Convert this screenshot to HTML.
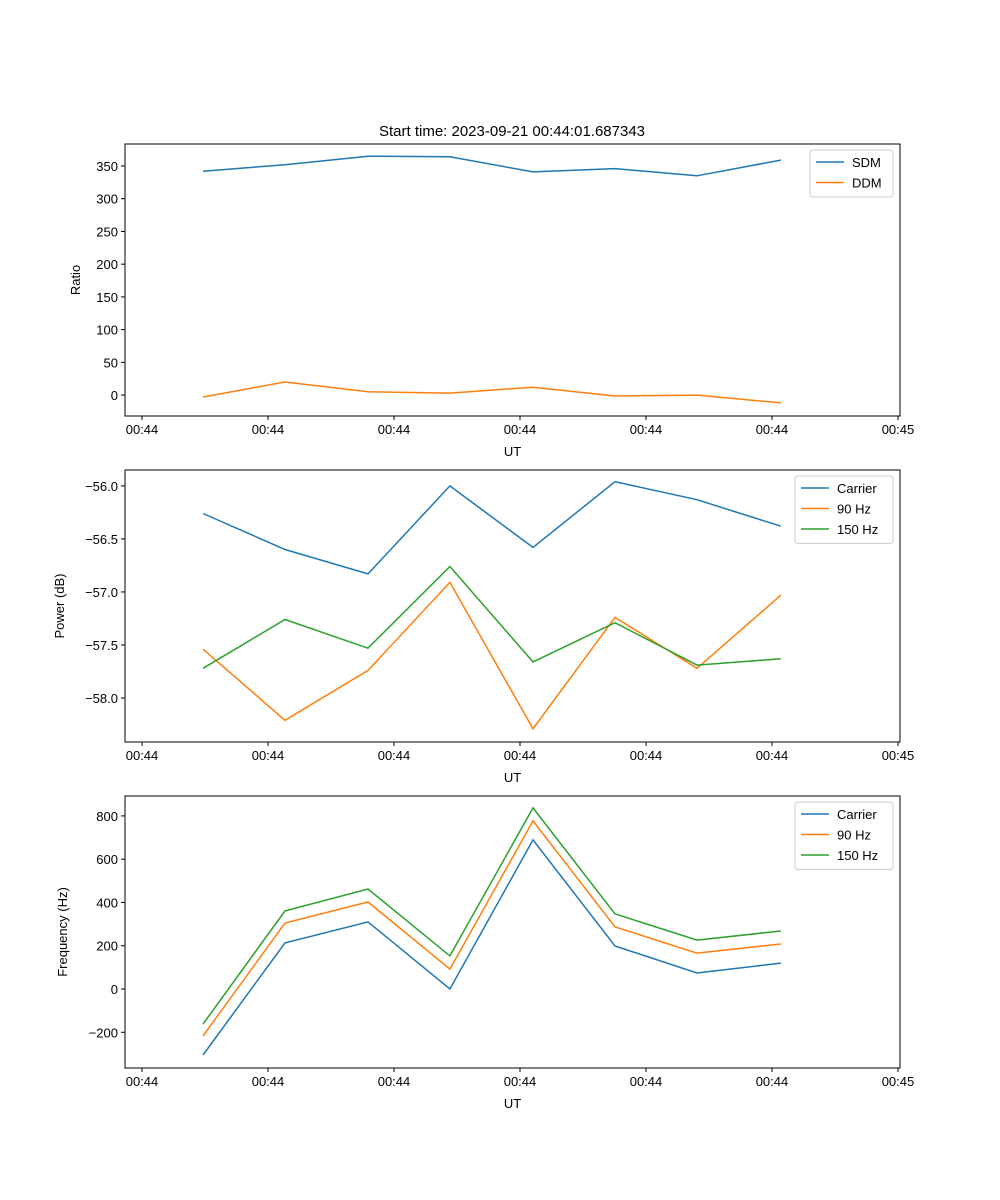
<!DOCTYPE html>
<html><head><meta charset="utf-8"><style>
body{margin:0;background:#fff}
svg{display:block;font-family:"Liberation Sans","DejaVu Sans",sans-serif}
</style></head><body>
<svg id="fig" width="1000" height="1200" xmlns="http://www.w3.org/2000/svg">
<rect width="1000" height="1200" fill="#fff"/>
<text x="512" y="136" font-size="15" text-anchor="middle">Start time: 2023-09-21 00:44:01.687343</text>
</svg>
<script>
const times = [0.484, 1.135, 1.794, 2.444, 3.103, 3.754, 4.405, 5.071];
const xTickVals = [0,1,2,3,4,5,6];
const xTickLabels = ["00:44","00:44","00:44","00:44","00:44","00:44","00:45"];
const sdm = [342, 352, 365, 364, 341, 346, 335, 359];
const ddm = [-3, 20, 5, 3, 12, -1.5, 0, -12];
const pCarrier = [-56.26, -56.60, -56.83, -56.0, -56.58, -55.96, -56.13, -56.38];
const p90 = [-57.54, -58.21, -57.74, -56.91, -58.29, -57.24, -57.72, -57.03];
const p150 = [-57.72, -57.26, -57.53, -56.76, -57.66, -57.29, -57.69, -57.63];
const fCarrier = [-305, 213, 310, 0, 689, 199, 74, 120];
const f90 = [-217, 305, 402, 92, 777, 287, 166, 208];
const f150 = [-162, 361, 462, 153, 837, 347, 226, 268];
const ratioTicks = [0,50,100,150,200,250,300,350];
const powerTicks = [-58.0,-57.5,-57.0,-56.5,-56.0];
const freqTicks = [-200,0,200,400,600,800];

const NS="http://www.w3.org/2000/svg";
const svg=document.getElementById('fig');
function mk(tag,attrs,parent){const e=document.createElementNS(NS,tag);for(const k in attrs)e.setAttribute(k,attrs[k]);(parent||svg).appendChild(e);return e;}
const L=125,R=900,X0=-0.135,X1=6.016;
const sx=v=>L+(v-X0)/(X1-X0)*(R-L);

function panel(name,top,bot,y0,y1,yTicks,fmt,ylabel,series,legend){
  const g=mk('g',{});
  
  
  const sy=v=>bot-(v-y0)/(y1-y0)*(bot-top);
  series.forEach(s=>{
    const pts=s.vals.map((v,i)=>sx(times[i]).toFixed(1)+','+sy(v).toFixed(1)).join(' ');
    const pl=mk('polyline',{points:pts,fill:'none',stroke:s.color,'stroke-width':1.5},g);
    
    
  });
  mk('rect',{x:L,y:top,width:R-L,height:bot-top,fill:'none',stroke:'#000','stroke-width':1},g);
  xTickVals.forEach((t,i)=>{
    const x=sx(t);
    mk('line',{x1:x,x2:x,y1:bot,y2:bot+4,stroke:'#000'},g);
    const tx=mk('text',{x:x,y:bot+18,'font-size':13,'text-anchor':'middle'},g);tx.textContent=xTickLabels[i];
    
    
  });
  const xl=mk('text',{x:(L+R)/2,y:bot+40,'font-size':13,'text-anchor':'middle'},g);xl.textContent='UT';
  
  
  yTicks.forEach(v=>{
    const y=sy(v);
    mk('line',{x1:L-4,x2:L,y1:y,y2:y,stroke:'#000'},g);
    const tx=mk('text',{x:L-7,y:y+5,'font-size':13,'text-anchor':'end'},g);tx.textContent=fmt(v);
    
    
  });
  const yl=mk('text',{x:0,y:0,'font-size':13,'text-anchor':'middle',transform:`translate(${legend.ylx},${(top+bot)/2}) rotate(-90)`},g);yl.textContent=ylabel;
  
  
  const lg=mk('g',{},g);
  
  
  mk('rect',{x:legend.x,y:top+6,width:legend.w,height:series.length*20.5+6,fill:'#fff',stroke:'#ccc',rx:3},lg);
  series.forEach((s,i)=>{
    const y=top+18+i*20.5;
    mk('line',{x1:legend.x+6,x2:legend.x+34,y1:y,y2:y,stroke:s.color,'stroke-width':1.5},lg);
    const tx=mk('text',{x:legend.x+42,y:y+5,'font-size':13},lg);tx.textContent=s.label;
    
    
  });
}
const B='#1f77b4',O='#ff7f0e',G='#2ca02c';
panel('ratio-panel',144,416,-32,383.6,ratioTicks,v=>String(v),'Ratio',
  [{id:'sdm',vals:sdm,color:B,label:'SDM'},{id:'ddm',vals:ddm,color:O,label:'DDM'}],{x:810,w:83,ylx:80});
panel('power-panel',470,742,-58.415,-55.85,powerTicks,v=>'\u2212'+Math.abs(v).toFixed(1),'Power (dB)',
  [{id:'carrier',vals:pCarrier,color:B,label:'Carrier'},{id:'90hz',vals:p90,color:O,label:'90 Hz'},{id:'150hz',vals:p150,color:G,label:'150 Hz'}],{x:795,w:98,ylx:64});
panel('frequency-panel',796,1068,-365,892,freqTicks,v=>v<0?'\u2212'+Math.abs(v):String(v),'Frequency (Hz)',
  [{id:'carrier',vals:fCarrier,color:B,label:'Carrier'},{id:'90hz',vals:f90,color:O,label:'90 Hz'},{id:'150hz',vals:f150,color:G,label:'150 Hz'}],{x:795,w:98,ylx:67});
</script>
</body></html>
